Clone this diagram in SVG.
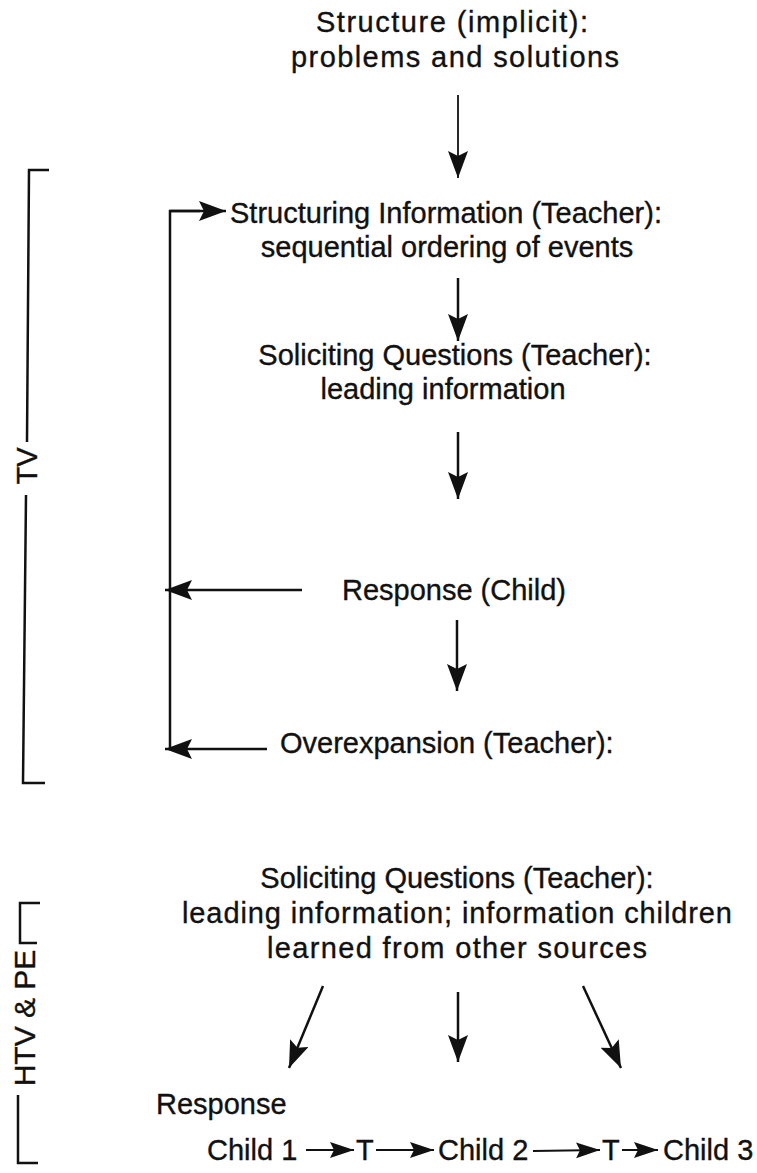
<svg xmlns="http://www.w3.org/2000/svg" width="757" height="1173" viewBox="0 0 757 1173">
<defs>
<style>
text{font-family:"Liberation Sans",Arial,Helvetica,sans-serif;font-size:29px;fill:#111;stroke:#111;stroke-width:0.35;}
.c{text-anchor:middle;}
.ln{stroke:#111;stroke-width:2.5;fill:none;}
.ar{stroke:#111;stroke-width:2.5;fill:none;marker-end:url(#ah);}
.ars{stroke:#111;stroke-width:2;fill:none;marker-end:url(#ahs);}
</style>
<marker id="ah" markerWidth="30" markerHeight="22" refX="27" refY="10" orient="auto" markerUnits="userSpaceOnUse"><path d="M0,0 L27,10 L0,20 L5,10 Z" fill="#111"/></marker>
<marker id="ahs" markerWidth="26" markerHeight="18" refX="24" refY="8" orient="auto" markerUnits="userSpaceOnUse"><path d="M0,0 L24,8 L0,16 L4,8 Z" fill="#111"/></marker>
</defs>
<rect width="757" height="1173" fill="#fff"/>

<g id="node-structure">
<text class="c" x="452" y="32" textLength="272" lengthAdjust="spacing">Structure (implicit):</text>
<text class="c" x="455" y="67" textLength="328" lengthAdjust="spacing">problems and solutions</text>
</g>
<g id="node-structuring">
<text class="c" x="446" y="223">Structuring Information (Teacher):</text>
<text class="c" x="447" y="257">sequential ordering of events</text>
</g>
<g id="node-soliciting1">
<text class="c" x="455" y="365">Soliciting Questions (Teacher):</text>
<text class="c" x="443" y="399">leading information</text>
</g>
<g id="node-response">
<text class="c" x="454" y="600">Response (Child)</text>
</g>
<g id="node-overexpansion">
<text x="280" y="753">Overexpansion (Teacher):</text>
</g>
<g id="node-soliciting2">
<text class="c" x="457" y="888">Soliciting Questions (Teacher):</text>
<text class="c" x="457" y="923" textLength="550" lengthAdjust="spacing">leading information; information children</text>
<text class="c" x="457" y="958" textLength="380" lengthAdjust="spacing">learned from other sources</text>
</g>
<g id="node-chain">
<text x="156" y="1114">Response</text>
<text x="207" y="1160">Child 1</text>
<text x="356" y="1160">T</text>
<text x="438" y="1160">Child 2</text>
<text x="602" y="1160">T</text>
<text x="663" y="1160">Child 3</text>
</g>
<g id="label-tv">
<path class="ln" d="M49,170 L29,170 L27,442 M26,495 L23,783 L45,783"/>
<text class="c" transform="translate(37,466) rotate(-90)">TV</text>
</g>
<g id="label-htv">
<path class="ln" d="M40,903 L20,903 L20,943 L37,943 M18,1095 L18,1163 L38,1163"/>
<text class="c" transform="translate(35,1018) rotate(-90)" style="font-size:30px">HTV &amp; PE</text>
</g>

<g id="connectors">
<line class="ar" style="stroke-width:1.8" x1="458" y1="95" x2="458" y2="178"/>
<line class="ar" x1="458" y1="278" x2="458" y2="341"/>
<line class="ar" x1="458" y1="432" x2="458" y2="499"/>
<line class="ar" x1="457" y1="620" x2="457" y2="691"/>
<path class="ln" d="M170,749 L170,211 L200,211"/>
<line class="ar" x1="170" y1="211" x2="226" y2="211"/>
<line class="ar" x1="302" y1="590" x2="165" y2="590"/>
<line class="ar" x1="267" y1="749" x2="165" y2="749"/>
<line class="ar" x1="323" y1="986" x2="289" y2="1068"/>
<line class="ar" x1="458" y1="992" x2="458" y2="1062"/>
<line class="ar" x1="583" y1="986" x2="621" y2="1068"/>
<line class="ars" x1="306" y1="1150" x2="354" y2="1150"/>
<line class="ars" x1="376" y1="1150" x2="434" y2="1150"/>
<line class="ars" x1="533" y1="1151" x2="600" y2="1150"/>
<line class="ars" x1="622" y1="1150" x2="658" y2="1150"/>
</g>
</svg>
